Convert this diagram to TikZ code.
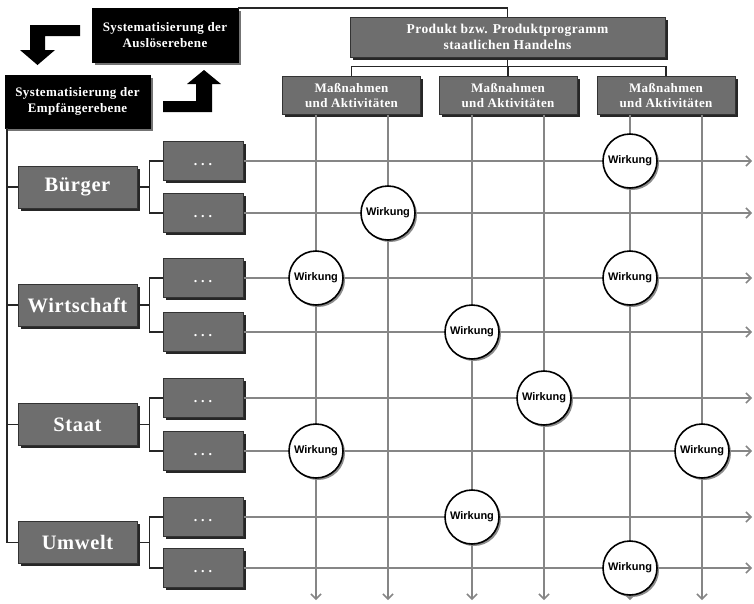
\documentclass[tikz,border=0pt]{standalone}
\usepackage{fontspec}
\setmainfont{Liberation Serif}
\newfontfamily\lsfont[LetterSpace=3]{Liberation Serif}
\newfontfamily\wfont{Liberation Sans}
\usetikzlibrary{arrows.meta,shadows,calc}
\definecolor{boxgray}{HTML}{6E6E6E}
\definecolor{linegray}{HTML}{868686}
\tikzset{
  every node/.style={inner sep=0pt},
  gbox/.style={draw=black!80, line width=1pt, fill=boxgray, text=white, align=center,
    font=\lsfont\bfseries\fontsize{13}{15}\selectfont,
    drop shadow={shadow xshift=2.8pt, shadow yshift=-2.8pt, fill=black!85, opacity=1}},
  kbox/.style={draw=black, fill=black, text=white, align=center,
    font=\lsfont\bfseries\fontsize{13}{15.5}\selectfont,
    drop shadow={shadow xshift=2.5pt, shadow yshift=-2.5pt, fill=black!55, opacity=1}},
  catbox/.style={gbox, minimum width=119pt, minimum height=42pt,
    font=\lsfont\bfseries\fontsize{20.5}{22}\selectfont},
  dotbox/.style={draw=black!80, line width=1pt, fill=boxgray, text=white,
    font=\bfseries\fontsize{14}{15}\selectfont, text height=0pt, text depth=0pt,
    minimum width=80pt, minimum height=39pt,
    drop shadow={shadow xshift=2.8pt, shadow yshift=-2.8pt, fill=black!85, opacity=1}},
  massbox/.style={gbox, minimum width=138pt, minimum height=38pt},
  wk/.style={circle, draw=black, line width=1.6pt, fill=white, minimum size=54pt,
    font=\wfont\bfseries\fontsize{11}{12}\selectfont,
    drop shadow={shadow xshift=2pt, shadow yshift=-2pt, fill=black!45, opacity=1}},
  gline/.style={draw=linegray, line width=2.1pt, -{Straight Barb[length=5pt,width=10pt,line width=1.5pt]}},
  tline/.style={draw=black!85, line width=1.5pt},
  blockarrow/.style={fill=black},
}
\newcommand{\dotstext}{\raisebox{-4pt}{.\hspace{4pt}.\hspace{4pt}.}}
\begin{document}
\begin{tikzpicture}[x=1pt,y=-1pt]
\useasboundingbox (0,0) rectangle (754,603);
\fill[white] (0,0) rectangle (754,603);

% ---- block arrows
\fill[blockarrow] (80,25) -- (30,25) -- (30,50) -- (20,50) -- (37.5,65) -- (55,50) -- (45,50) -- (45,36) -- (80,36) -- cycle;
\fill[blockarrow] (163,112) -- (212,112) -- (212,84) -- (221,84) -- (204,70) -- (187,84) -- (196,84) -- (196,101) -- (163,101) -- cycle;

% ---- top boxes
\node[kbox, minimum width=146pt, minimum height=54pt] (ausl) at (165,35) {Systematisierung der\\Auslöserebene};
\node[kbox, minimum width=145pt, minimum height=53pt] (empf) at (77.5,101.5) {Systematisierung der\\Empfängerebene};
\node[gbox, minimum width=315pt, minimum height=40pt, font=\lsfont\bfseries\fontsize{13.5}{16}\selectfont] (prod) at (507.5,37) {Produkt bzw. Produktprogramm\\staatlichen Handelns};
\node[massbox] (m1) at (351.5,95) {Maßnahmen\\und Aktivitäten};
\node[massbox] (m2) at (508,95) {Maßnahmen\\und Aktivitäten};
\node[massbox] (m3) at (666,95) {Maßnahmen\\und Aktivitäten};

% ---- tree connectors (top)
\draw[tline] (ausl.north east) -- (ausl.north east -| prod.north) -- (prod.north);
\coordinate (pj) at ($(prod.south)+(0,9)$);
\draw[tline] (prod.south) -- (pj);
\draw[tline] (m1.north) -- (m1.north |- pj) -- (m3.north |- pj) -- (m3.north);
\draw[tline] (m2.north) -- (m2.north |- pj);

% ---- category boxes
\node[catbox] (cB) at (77.5,187) {Bürger};
\node[catbox] (cW) at (77.5,305) {Wirtschaft};
\node[catbox] (cS) at (77.5,424.5) {Staat};
\node[catbox] (cU) at (77.5,542.5) {Umwelt};

% ---- left spine
\coordinate (lx) at (7,0);
\draw[tline] (lx |- empf.south) -- (lx |- cU.west) -- (cU.west);
\foreach \c in {cB,cW,cS} { \draw[tline] (lx |- \c.west) -- (\c.west); }

% ---- dots boxes and horizontal lines
\foreach \i/\y in {1/161,2/213,3/278,4/332,5/398,6/451,7/517,8/568} {
  \node[dotbox] (d\i) at (203,\y) {\dotstext};
  \coordinate (e\i) at (752,\y);
}

% ---- vertical lines
\coordinate (b1) at (316,600);
\coordinate (b2) at (388,600);
\coordinate (b3) at (472,600);
\coordinate (b4) at (544,600);
\coordinate (b5) at (630,600);
\coordinate (b6) at (702,600);
\draw[gline] (m1.south -| b1) -- (b1);
\draw[gline] (m1.south -| b2) -- (b2);
\draw[gline] (m2.south -| b3) -- (b3);
\draw[gline] (m2.south -| b4) -- (b4);
\draw[gline] (m3.south -| b5) -- (b5);
\draw[gline] (m3.south -| b6) -- (b6);

\foreach \i in {1,...,8} { \draw[gline] (d\i.east) -- (e\i); }

% ---- category to dots connectors
\foreach \c/\a/\b in {cB/1/2, cW/3/4, cS/5/6, cU/7/8} {
  \coordinate (j\c) at ($(d\a.west)+(-13,0)$);
  \draw[tline] (d\a.west) -- (j\c) |- (d\b.west);
  \draw[tline] (\c.east) -- (\c.east -| j\c);
}

% ---- Wirkung circles
\node[wk] (w1) at (b5 |- d1) {Wirkung};
\node[wk] (w2) at (b2 |- d2) {Wirkung};
\node[wk] (w3) at (b1 |- d3) {Wirkung};
\node[wk] (w4) at (b5 |- d3) {Wirkung};
\node[wk] (w5) at (b3 |- d4) {Wirkung};
\node[wk] (w6) at (b4 |- d5) {Wirkung};
\node[wk] (w7) at (b1 |- d6) {Wirkung};
\node[wk] (w8) at (b6 |- d6) {Wirkung};
\node[wk] (w9) at (b3 |- d7) {Wirkung};
\node[wk] (w10) at (b5 |- d8) {Wirkung};
\end{tikzpicture}
\end{document}
